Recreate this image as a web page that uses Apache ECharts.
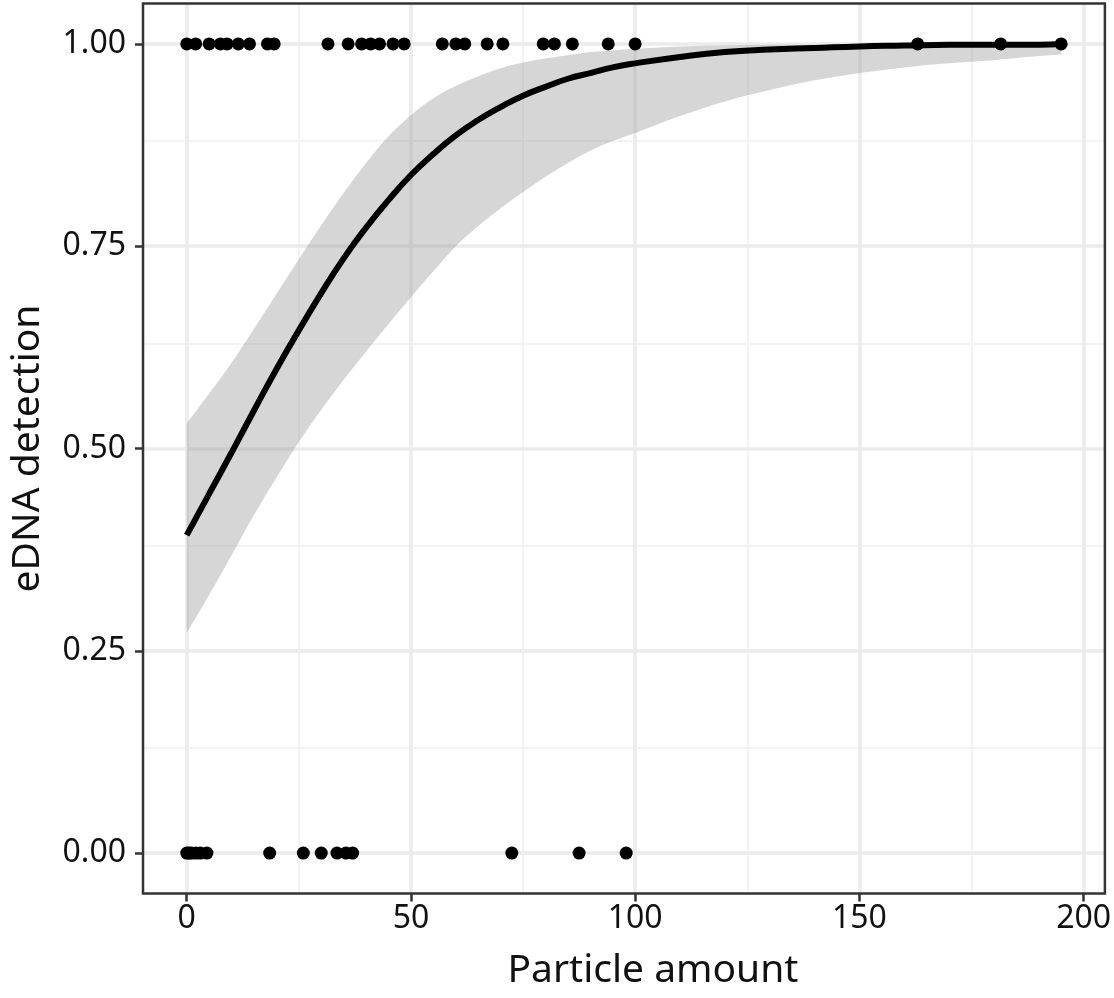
<!DOCTYPE html>
<html>
<head>
<meta charset="utf-8">
<script src="https://cdn.jsdelivr.net/npm/echarts@6/dist/echarts.min.js"></script>
<style>
  html, body { margin: 0; padding: 0; background: #fff; }
  #chart { width: 1114px; height: 998px; }
</style>
</head>
<body>
<div id="chart"></div>
<script>
// observations: particle amount where eDNA was detected (1) / not detected (0)
const detectedX = [0, 2, 5, 7.5, 9, 11.5, 14, 18, 19.5,
  31.5, 36, 39, 41, 43, 46, 48.5,
  57, 60, 62, 67, 70.5,
  79.5, 82, 86, 94, 100,
  163, 181.5, 195];
const notDetectedX = [0, 0.5, 1, 2, 3, 4.5, 18.5, 26, 30, 33.5, 35.5, 37, 72.5, 87.5, 98];

// fitted logistic curve and its confidence band
const fitX = [0, 5, 10, 15, 20, 25, 30, 35, 40, 45, 50, 55, 60, 65, 70, 75, 80, 85, 90, 95, 100,
  110, 120, 130, 140, 150, 160, 170, 180, 190, 195];
const fitY = [0.393, 0.444, 0.495, 0.547, 0.598, 0.646, 0.692, 0.735, 0.773, 0.807, 0.838, 0.864, 0.887, 0.906, 0.922,
  0.936, 0.947, 0.957, 0.964, 0.971, 0.976, 0.984, 0.990, 0.993, 0.995, 0.997, 0.998, 0.999, 0.999, 0.999, 1.0];
const lowerY = [0.272, 0.319, 0.368, 0.418, 0.464, 0.508, 0.548, 0.585, 0.620, 0.654, 0.687, 0.719, 0.750, 0.775, 0.797,
  0.817, 0.836, 0.853, 0.868, 0.880, 0.890, 0.911, 0.929, 0.943, 0.955, 0.964, 0.971, 0.976, 0.980, 0.985, 0.987];
const upperY = [0.531, 0.568, 0.606, 0.648, 0.691, 0.734, 0.776, 0.816, 0.853, 0.886, 0.912, 0.933, 0.948, 0.960, 0.970,
  0.977, 0.982, 0.986, 0.990, 0.992, 0.994, 0.997, 0.998, 0.999, 0.999, 1.0, 1.0, 1.0, 1.0, 1.0, 1.0];

const xTicks = [0, 50, 100, 150, 200];
const xMinor = [25, 75, 125, 175];
const yTicks = [0, 0.25, 0.5, 0.75, 1];
const yMinor = [0.125, 0.375, 0.625, 0.875];

var chart = echarts.init(document.getElementById('chart'));

const gridMarks = [];
xMinor.forEach(v => gridMarks.push({ xAxis: v, lineStyle: { color: '#F3F3F3', width: 2, type: 'solid' } }));
yMinor.forEach(v => gridMarks.push({ yAxis: v, lineStyle: { color: '#F3F3F3', width: 2, type: 'solid' } }));
xTicks.forEach(v => gridMarks.push({ xAxis: v, lineStyle: { color: '#EBEBEB', width: 3.5, type: 'solid' } }));
yTicks.forEach(v => gridMarks.push({ yAxis: v, lineStyle: { color: '#EBEBEB', width: 3.5, type: 'solid' } }));

const textCol = '#111';
const fontFam = '"Noto Sans", sans-serif';

// band: smoothed upper and lower edges joined into one closed path
function edgePath(pts) {
  // catmull-rom through the points, as cubic beziers
  let d = '';
  for (let i = 0; i < pts.length - 1; i++) {
    const p0 = pts[Math.max(i - 1, 0)], p1 = pts[i], p2 = pts[i + 1], p3 = pts[Math.min(i + 2, pts.length - 1)];
    const c1 = [p1[0] + (p2[0] - p0[0]) / 6, p1[1] + (p2[1] - p0[1]) / 6];
    const c2 = [p2[0] - (p3[0] - p1[0]) / 6, p2[1] - (p3[1] - p1[1]) / 6];
    d += ' C' + c1[0] + ',' + c1[1] + ' ' + c2[0] + ',' + c2[1] + ' ' + p2[0] + ',' + p2[1];
  }
  return d;
}
function renderBand(params, api) {
  const up = fitX.map((x, i) => api.coord([x, upperY[i]]));
  const lo = fitX.map((x, i) => api.coord([x, lowerY[i]])).reverse();
  const d = 'M' + up[0][0] + ',' + up[0][1] + edgePath(up) +
    ' L' + lo[0][0] + ',' + lo[0][1] + edgePath(lo) + ' Z';
  return {
    type: 'path',
    shape: { pathData: d },
    style: { fill: 'rgba(153,153,153,0.4)' }
  };
}

var option = {
  animation: false,
  backgroundColor: '#fff',
  grid: {
    left: 141, right: 4, top: 3.5, bottom: 104.5,
    show: true, borderColor: '#333', borderWidth: 2.5, backgroundColor: 'transparent', z: 5
  },
  xAxis: {
    type: 'value', min: -9.75, max: 204.75,
    name: 'Particle amount', nameLocation: 'middle', nameGap: 58,
    nameTextStyle: { fontSize: 39, color: textCol, fontFamily: fontFam, padding: [0, 0, 0, 58] },
    axisLine: { show: false, onZero: false },
    axisTick: { show: true, length: 8, customValues: xTicks, lineStyle: { color: '#333', width: 2.5 } },
    axisLabel: { customValues: xTicks, fontSize: 32, color: textCol, fontFamily: fontFam, margin: 9 },
    splitLine: { show: false }
  },
  yAxis: {
    type: 'value', min: -0.05, max: 1.05,
    name: 'eDNA detection', nameLocation: 'middle', nameGap: 96,
    nameTextStyle: { fontSize: 39, color: textCol, fontFamily: fontFam },
    axisLine: { show: false, onZero: false },
    axisTick: { show: true, length: 8, customValues: yTicks, lineStyle: { color: '#333', width: 2.5 } },
    axisLabel: { customValues: yTicks, fontSize: 32, color: textCol, fontFamily: fontFam, margin: 17,
      formatter: v => v.toFixed(2) },
    splitLine: { show: false }
  },
  series: [
    {
      name: 'band', type: 'custom', z: 2, silent: true,
      renderItem: renderBand,
      data: [0],
      encode: { x: [], y: [] },
      markLine: { silent: true, z: 1, symbol: ['none', 'none'], label: { show: false }, data: gridMarks }
    },
    {
      name: 'fit', type: 'line', z: 3,
      data: fitX.map((x, i) => [x, fitY[i]]),
      smooth: true, symbol: 'none', silent: true,
      lineStyle: { color: '#000', width: 6 }
    },
    {
      name: 'detected', type: 'scatter', z: 4, symbol: 'circle',
      data: detectedX.map(x => [x, 1]),
      symbolSize: 13, itemStyle: { color: '#000', borderWidth: 0, opacity: 1 }
    },
    {
      name: 'not detected', type: 'scatter', z: 4, symbol: 'circle',
      data: notDetectedX.map(x => [x, 0]),
      symbolSize: 13, itemStyle: { color: '#000', borderWidth: 0, opacity: 1 }
    }
  ]
};

chart.setOption(option);
</script>
</body>
</html>
